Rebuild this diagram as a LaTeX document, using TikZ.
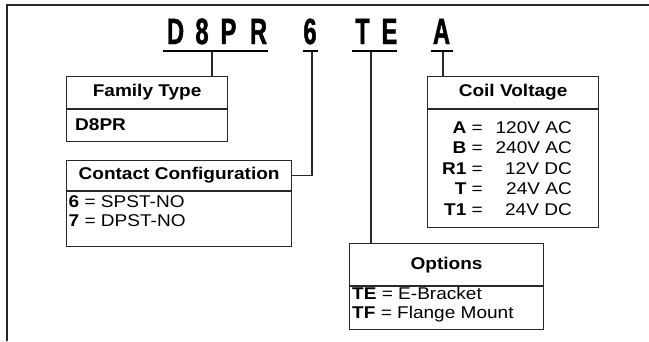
\documentclass[tikz,border=0pt]{standalone}
\usepackage{fontspec}
\setmainfont{Liberation Sans}[FakeStretch=1.12]
\newfontfamily\codefont{Liberation Sans Bold}[FakeStretch=0.65, FakeBold=1.2]
\definecolor{rulegray}{RGB}{40, 40, 40}
\usetikzlibrary{positioning}

\newcommand{\boxfont}{\fontsize{17}{20}\selectfont}

\tikzset{
  boxhead/.style={draw=rulegray, line width=1.2pt, font=\boxfont\bfseries, anchor=north west, inner sep=0pt, align=center},
  boxbody/.style={draw=rulegray, line width=1.2pt, anchor=north west, inner sep=0pt},
  bodytext/.style={inner sep=0pt, anchor=base west, font=\boxfont},
  codeletter/.style={font=\codefont\fontsize{36.5}{36.5}\selectfont, inner sep=0pt, anchor=base},
  lead/.style={line width=1.2pt, draw=rulegray},
  bar/.style={line width=2.8pt, draw=black},
}

\begin{document}
\begin{tikzpicture}[x=1pt, y=-1pt, font=\boxfont]
        \useasboundingbox (0,0) rectangle (649,341);

        % Frame
        \draw[lead, line width=1.4pt] (7,341) -- (7,5) -- (649,5);

        % Catalog code
        \foreach \ch/\cx [count=\i] in {D/175.5, 8/202, P/228.5, R/258.5, 6/310, T/362.5, E/389.5, A/441.5}
            \node[codeletter] (code\i) at (\cx,44) {\ch};

        % Underlines
        \draw[bar] (163,51) -- (268,51);
        \draw[bar] (303,51) -- (318,51);
        \draw[bar] (352,51) -- (397,51);
        \draw[bar] (431,51) -- (453,51);

        % Family Type
        \node[boxhead, minimum width=161pt, minimum height=32pt] (famhead) at (66,76) {Family Type};
        \node[boxbody, minimum width=161pt, minimum height=32pt] (fambody) at (famhead.south west) {};
        \node[bodytext] (famD8PR) at (75,130) {\textbf{D8PR}};

        % Contact Configuration
        \node[boxhead, minimum width=225pt, minimum height=30pt] (conhead) at (66,160) {Contact Configuration};
        \node[boxbody, minimum width=225pt, minimum height=55pt] (conbody) at (conhead.south west) {};
        \node[bodytext] (con6) at (68.5,207) {\textbf{6} = SPST-NO};
        \node[bodytext] (con7) at (68.5,226.5) {\textbf{7} = DPST-NO};

        % Coil Voltage
        \node[boxhead, minimum width=171pt, minimum height=32pt] (coilhead) at (427,76) {Coil Voltage};
        \node[boxbody, minimum width=171pt, minimum height=118pt] (coilbody) at (coilhead.south west) {};
        \foreach \lab/\val [count=\i] in {A/120V AC, B/240V AC, R1/12V DC, T/24V AC, T1/24V DC} {
            \pgfmathsetmacro\yy{112.5+20.5*\i}
            \node[inner sep=0pt, anchor=base east] (coillab\i) at (483,\yy) {\textbf{\lab} =};
            \node[inner sep=0pt, anchor=base east] (coilval\i) at (572,\yy) {\val};
        }

        % Options
        \node[boxhead, minimum width=194pt, minimum height=42pt] (opthead) at (349,243) {Options};
        \node[boxbody, minimum width=194pt, minimum height=43pt] (optbody) at (opthead.south west) {};
        \node[bodytext] (optTE) at (352,299) {\textbf{TE} = E-Bracket};
        \node[bodytext] (optTF) at (352,318.5) {\textbf{TF} = Flange Mount};

        % Leads
        \coordinate (famtap) at (212,52);
        \coordinate (contap) at (312,52);
        \coordinate (opttap) at (371,52);
        \coordinate (coiltap) at (443,52);
        \draw[lead] (famtap) -- (famtap |- famhead.north);
        \draw[lead] (contap) |- (conhead.east);
        \draw[lead] (opttap) -- (opttap |- opthead.north);
        \draw[lead] (coiltap) -- (coiltap |- coilhead.north);
    \end{tikzpicture}
\end{document}
